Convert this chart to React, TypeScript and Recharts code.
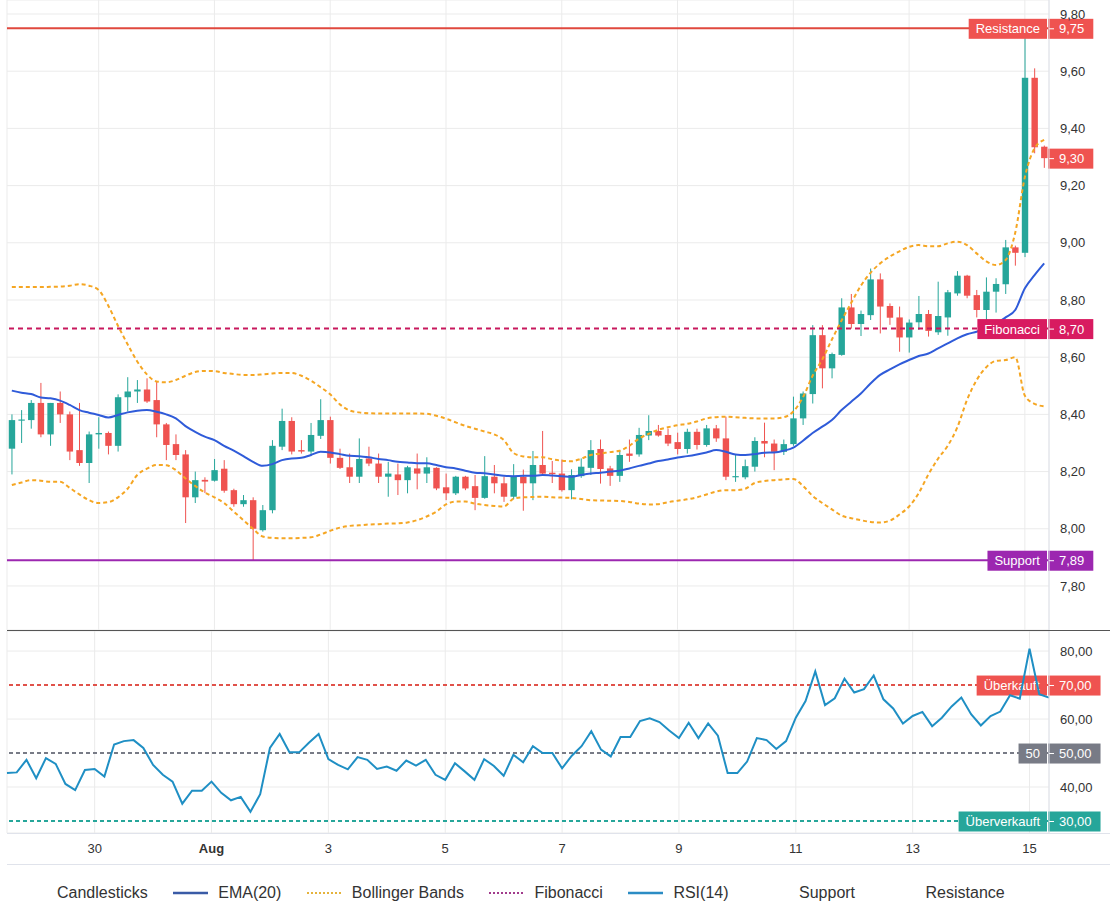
import { ComposedChart, Bar, Line, XAxis, YAxis, CartesianGrid, ReferenceLine } from 'recharts';

// 4h candles, 28 Jul 12:00 -> 15 Aug 08:00
const opens = [
  8.28, 8.378, 8.38, 8.44, 8.33, 8.44, 8.40, 8.275, 8.23, 8.33,
  8.335, 8.29, 8.46, 8.48, 8.487, 8.45, 8.365, 8.296, 8.26, 8.11,
  8.171, 8.168, 8.21, 8.135, 8.086, 8.10, 7.995, 8.065, 8.287, 8.377,
  8.275, 8.27, 8.325, 8.38, 8.248, 8.215, 8.182, 8.246, 8.228, 8.182,
  8.19, 8.17, 8.211, 8.193, 8.213, 8.145, 8.124, 8.182, 8.149, 8.108,
  8.182, 8.159, 8.112, 8.182, 8.159, 8.223, 8.196, 8.193, 8.135, 8.184,
  8.213, 8.279, 8.211, 8.185, 8.263, 8.26, 8.326, 8.342, 8.328, 8.303,
  8.279, 8.339, 8.293, 8.351, 8.316, 8.18, 8.18, 8.217, 8.307, 8.298,
  8.269, 8.296, 8.386, 8.471, 8.677, 8.561, 8.608, 8.774, 8.716, 8.747,
  8.872, 8.779, 8.739, 8.669, 8.722, 8.751, 8.687, 8.739, 8.823, 8.885,
  8.817, 8.765, 8.829, 8.855, 8.984, 8.965, 9.577, 9.336,
];
const highs = [
  8.40, 8.415, 8.45, 8.51, 8.44, 8.48, 8.41, 8.44, 8.34, 8.39,
  8.34, 8.47, 8.53, 8.52, 8.526, 8.513, 8.37, 8.33, 8.275, 8.20,
  8.18, 8.244, 8.24, 8.14, 8.118, 8.11, 8.083, 8.31, 8.42, 8.39,
  8.31, 8.37, 8.453, 8.392, 8.28, 8.263, 8.316, 8.287, 8.263, 8.234,
  8.228, 8.22, 8.263, 8.25, 8.215, 8.193, 8.185, 8.185, 8.188, 8.254,
  8.223, 8.182, 8.226, 8.207, 8.272, 8.342, 8.237, 8.242, 8.208, 8.246,
  8.31, 8.312, 8.22, 8.275, 8.312, 8.353, 8.397, 8.363, 8.35, 8.336,
  8.35, 8.35, 8.363, 8.363, 8.392, 8.258, 8.242, 8.32, 8.371, 8.312,
  8.312, 8.462, 8.48, 8.712, 8.712, 8.616, 8.806, 8.821, 8.763, 8.91,
  8.893, 8.788, 8.777, 8.732, 8.814, 8.765, 8.864, 8.835, 8.901, 8.888,
  8.835, 8.879, 8.876, 9.01, 8.99, 9.73, 9.61, 9.34,
];
const lows = [
  8.19, 8.30, 8.35, 8.32, 8.29, 8.37, 8.24, 8.22, 8.16, 8.28,
  8.26, 8.27, 8.41, 8.44, 8.44, 8.32, 8.24, 8.24, 8.02, 8.09,
  8.125, 8.165, 8.126, 8.077, 8.077, 7.89, 7.99, 8.054, 8.275, 8.26,
  8.263, 8.254, 8.314, 8.228, 8.209, 8.16, 8.16, 8.219, 8.16, 8.112,
  8.118, 8.124, 8.138, 8.16, 8.135, 8.10, 8.118, 8.135, 8.065, 8.105,
  8.124, 8.094, 8.103, 8.063, 8.10, 8.188, 8.16, 8.13, 8.103, 8.178,
  8.188, 8.158, 8.15, 8.164, 8.234, 8.252, 8.31, 8.322, 8.289, 8.26,
  8.263, 8.277, 8.287, 8.304, 8.17, 8.164, 8.173, 8.20, 8.25, 8.205,
  8.258, 8.29, 8.363, 8.438, 8.491, 8.526, 8.605, 8.70, 8.674, 8.73,
  8.683, 8.713, 8.619, 8.616, 8.695, 8.672, 8.678, 8.675, 8.815, 8.806,
  8.739, 8.73, 8.756, 8.821, 8.92, 8.95, 9.313, 9.262,
];
const closes = [
  8.38, 8.382, 8.44, 8.33, 8.44, 8.40, 8.27, 8.23, 8.33, 8.335,
  8.29, 8.46, 8.48, 8.487, 8.445, 8.365, 8.293, 8.258, 8.11, 8.17,
  8.165, 8.205, 8.133, 8.086, 8.10, 8.00, 8.065, 8.29, 8.377, 8.27,
  8.27, 8.328, 8.38, 8.248, 8.213, 8.182, 8.244, 8.228, 8.182, 8.193,
  8.17, 8.215, 8.193, 8.215, 8.141, 8.124, 8.182, 8.141, 8.108, 8.184,
  8.159, 8.112, 8.182, 8.159, 8.223, 8.193, 8.191, 8.135, 8.188, 8.217,
  8.275, 8.209, 8.185, 8.258, 8.255, 8.328, 8.342, 8.326, 8.298, 8.279,
  8.339, 8.293, 8.351, 8.316, 8.182, 8.184, 8.219, 8.307, 8.298, 8.269,
  8.296, 8.386, 8.473, 8.677, 8.561, 8.611, 8.774, 8.716, 8.751, 8.872,
  8.777, 8.738, 8.669, 8.721, 8.751, 8.692, 8.744, 8.827, 8.885, 8.815,
  8.765, 8.829, 8.856, 8.984, 8.965, 9.577, 9.334, 9.296,
];
const ema20 = [
  8.483, 8.476, 8.471, 8.459, 8.456, 8.448, 8.433, 8.415, 8.406, 8.398,
  8.389, 8.398, 8.407, 8.413, 8.415, 8.409, 8.40, 8.386, 8.359, 8.339,
  8.322, 8.31, 8.29, 8.273, 8.254, 8.234, 8.22, 8.226, 8.24, 8.246,
  8.248, 8.258, 8.269, 8.267, 8.261, 8.255, 8.254, 8.25, 8.244, 8.24,
  8.234, 8.232, 8.229, 8.229, 8.223, 8.215, 8.211, 8.203, 8.196, 8.194,
  8.19, 8.185, 8.184, 8.185, 8.185, 8.188, 8.186, 8.184, 8.182, 8.188,
  8.193, 8.196, 8.20, 8.203, 8.211, 8.22, 8.228, 8.237, 8.242, 8.249,
  8.254, 8.26, 8.267, 8.275, 8.269, 8.26, 8.258, 8.261, 8.266, 8.267,
  8.273, 8.284, 8.308, 8.335, 8.357, 8.38, 8.415, 8.444, 8.473, 8.508,
  8.538, 8.557, 8.575, 8.59, 8.604, 8.613, 8.631, 8.648, 8.666, 8.68,
  8.689, 8.701, 8.716, 8.739, 8.765, 8.841, 8.887, 8.928,
];
const bbUpper = [
  8.845, 8.845, 8.845, 8.845, 8.846, 8.847, 8.85, 8.855, 8.85, 8.835,
  8.78, 8.71, 8.645, 8.585, 8.54, 8.515, 8.512, 8.52, 8.535, 8.548,
  8.552, 8.551, 8.545, 8.541, 8.538, 8.538, 8.54, 8.543, 8.545, 8.545,
  8.535, 8.518, 8.495, 8.47, 8.435, 8.414, 8.407, 8.404, 8.403, 8.403,
  8.403, 8.403, 8.403, 8.402, 8.395, 8.385, 8.372, 8.36, 8.35, 8.34,
  8.33, 8.31, 8.265, 8.253, 8.25, 8.25, 8.243, 8.238, 8.236, 8.245,
  8.258, 8.263, 8.268, 8.273, 8.29, 8.315, 8.332, 8.346, 8.355, 8.362,
  8.367, 8.375, 8.386, 8.39, 8.392, 8.39, 8.388, 8.386, 8.386, 8.386,
  8.39, 8.41, 8.46, 8.535, 8.592, 8.662, 8.728, 8.79, 8.85, 8.895,
  8.928, 8.952, 8.97, 8.986, 8.992, 8.988, 8.988, 8.998, 9.004, 8.992,
  8.963, 8.935, 8.922, 8.94, 9.035, 9.23, 9.33, 9.36,
];
const bbLower = [
  8.153, 8.162, 8.17, 8.168, 8.164, 8.164, 8.143, 8.12, 8.10, 8.09,
  8.093, 8.11, 8.14, 8.188, 8.21, 8.223, 8.222, 8.205, 8.176, 8.15,
  8.127, 8.11, 8.09, 8.06, 8.03, 8.00, 7.973, 7.968, 7.967, 7.967,
  7.968, 7.97, 7.98, 7.993, 8.004, 8.01, 8.012, 8.015, 8.016, 8.018,
  8.019, 8.022, 8.03, 8.043, 8.06, 8.085, 8.095, 8.095, 8.088, 8.083,
  8.08, 8.078, 8.105, 8.11, 8.111, 8.112, 8.11, 8.109, 8.108, 8.104,
  8.10, 8.099, 8.098, 8.097, 8.094, 8.088, 8.085, 8.086, 8.093, 8.098,
  8.103, 8.11, 8.12, 8.13, 8.135, 8.135, 8.14, 8.16, 8.167, 8.17,
  8.173, 8.174, 8.15, 8.115, 8.09, 8.068, 8.046, 8.037, 8.03, 8.024,
  8.022, 8.028, 8.05, 8.078, 8.125, 8.19, 8.245, 8.29, 8.355, 8.45,
  8.52, 8.565, 8.587, 8.59, 8.60, 8.465, 8.437, 8.428,
];
const rsi14 = [
  44.1, 44.3, 48.0, 42.6, 48.5, 46.8, 40.9, 39.1, 45.0, 45.3,
  43.1, 52.5, 53.5, 53.8, 51.5, 46.5, 43.6, 41.6, 35.1, 38.9,
  38.9, 41.6, 38.3, 36.1, 37.1, 32.7, 37.9, 51.5, 55.6, 50.2,
  50.2, 53.0, 55.6, 48.2, 46.5, 45.2, 48.8, 48.0, 45.3, 46.0,
  44.8, 47.8, 46.3, 48.0, 43.6, 42.1, 47.0, 44.6, 42.1, 48.2,
  46.2, 43.3, 49.5, 47.3, 52.0, 50.0, 50.0, 45.5, 49.2, 52.0,
  56.4, 51.0, 49.0, 54.7, 54.7, 59.4, 60.2, 59.1, 56.6, 54.4,
  58.9, 54.4, 58.7, 55.1, 44.1, 44.1, 47.5, 54.4, 53.8, 51.2,
  53.5, 60.4, 65.3, 74.0, 64.1, 66.1, 71.9, 67.8, 68.8, 72.8,
  65.8, 63.1, 58.7, 60.9, 62.1, 57.9, 60.4, 63.7, 66.3, 61.4,
  58.1, 60.9, 62.2, 67.0, 66.0, 80.7, 67.3, 66.3,
];

const priceTicks = [7.8, 8.0, 8.2, 8.4, 8.6, 8.8, 9.0, 9.2, 9.4, 9.6, 9.8];
const rsiTicks = [40, 60, 80];
const dayTickIdx = [9, 21, 33, 45, 57, 69, 81, 93, 105];
const dayTickLabels = ['30', 'Aug', '3', '5', '7', '9', '11', '13', '15'];

const SUPPORT = 7.89;
const RESISTANCE = 9.75;
const FIBONACCI = 8.7;

const UP = '#26a69a';
const DOWN = '#ef5350';
const GRID = '#ebebeb';
const AXIS_LINE = '#e0e3eb';
const FONT = '"Liberation Sans", Arial, sans-serif';

const rows = opens.map((o, i) => ({
  i,
  open: o,
  high: highs[i],
  low: lows[i],
  close: closes[i],
  ema: ema20[i],
  upper: bbUpper[i],
  lower: bbLower[i],
  rsi: rsi14[i],
}));

const fmt = (v: number) => v.toFixed(2).replace('.', ',');

let measureCtx: CanvasRenderingContext2D | null = null;
function textWidth(s: string) {
  if (!measureCtx) measureCtx = document.createElement('canvas').getContext('2d');
  if (!measureCtx) return s.length * 7;
  measureCtx.font = `13px ${FONT}`;
  return measureCtx.measureText(s).width;
}

function Candle(props: any) {
  const { x, y, width, height, payload } = props;
  if (!payload) return null;
  const { open, close, high, low } = payload;
  const color = close >= open ? UP : DOWN;
  const top = Math.min(y, y + height);
  const h = Math.abs(height);
  const k = high > low ? h / (high - low) : 0;
  const yOf = (p: number) => top + (high - p) * k;
  const cx = x + width / 2;
  const bTop = yOf(Math.max(open, close));
  const bBot = yOf(Math.min(open, close));
  return (
    <g>
      <line x1={cx} x2={cx} y1={top} y2={top + h} stroke={color} strokeWidth={1} />
      <rect x={cx - 3.2} y={bTop} width={6.4} height={Math.max(1, bBot - bTop)} fill={color} />
    </g>
  );
}

function AxisTag(props: any) {
  const { viewBox, name, text, color } = props;
  if (!viewBox) return null;
  const axisX = viewBox.x + viewBox.width;
  const cy = viewBox.y + 0.5;
  const valW = textWidth(text) + 20;
  const nameW = name ? textWidth(name) + 14 : 0;
  return (
    <g>
      {name && (
        <g>
          <rect x={axisX - 2 - nameW} y={cy - 10} width={nameW} height={20} fill={color} />
          <text x={axisX - 2 - nameW / 2} y={cy} dy="0.36em" textAnchor="middle" fill="#fff" fontSize={13}>
            {name}
          </text>
        </g>
      )}
      <rect x={axisX - 1} y={cy - 10} width={valW} height={20} fill={color} />
      <line x1={axisX} x2={axisX + 5} y1={cy} y2={cy} stroke="#fff" strokeWidth={1} />
      <text x={axisX + 10} y={cy} dy="0.36em" fill="#fff" fontSize={13}>
        {text}
      </text>
    </g>
  );
}

function TimeTick(props: any) {
  const { x, y, payload } = props;
  const k = dayTickIdx.indexOf(payload.value);
  const label = k >= 0 ? dayTickLabels[k] : '';
  return (
    <text x={x} y={y + 12} textAnchor="middle" fontSize={13} fill="#333" fontWeight={label === 'Aug' ? 700 : 400}>
      {label}
    </text>
  );
}

const legendItems = [
  { label: 'Candlesticks', icon: 'none', color: '' },
  { label: 'EMA(20)', icon: 'solid', color: '#3a5ba6' },
  { label: 'Bollinger Bands', icon: 'dotted', color: '#e5b33c' },
  { label: 'Fibonacci', icon: 'dotted', color: '#a23b8c' },
  { label: 'RSI(14)', icon: 'solid', color: '#2b8cc4' },
  { label: 'Support', icon: 'none', color: '' },
  { label: 'Resistance', icon: 'none', color: '' },
];

export default function App() {
  return (
    <div style={{ position: 'relative', width: 1110, height: 912, fontFamily: FONT, background: '#fff' }}>
      <style>{'body{margin:0}'}</style>
      <div style={{ position: 'absolute', left: 0, top: 0 }}>
        <ComposedChart width={1110} height={630} data={rows} margin={{ top: 0, right: 0, left: 7, bottom: 0 }}>
          <CartesianGrid stroke={GRID} />
          <XAxis dataKey="i" type="category" hide ticks={dayTickIdx} />
          <YAxis
            orientation="right"
            width={61}
            domain={[7.646, 9.849]}
            allowDataOverflow
            ticks={priceTicks}
            tickFormatter={fmt}
            tickLine={false}
            axisLine={{ stroke: AXIS_LINE }}
            tick={{ fill: '#333', fontSize: 13 }}
            tickMargin={5}
          />
          <Line dataKey="upper" type="monotone" stroke="#f5a623" strokeWidth={2} strokeDasharray="4 3" dot={false} isAnimationActive={false} />
          <Line dataKey="lower" type="monotone" stroke="#f5a623" strokeWidth={2} strokeDasharray="4 3" dot={false} isAnimationActive={false} />
          <Line dataKey="ema" type="monotone" stroke="#2f5bd9" strokeWidth={2} dot={false} isAnimationActive={false} />
          <Bar dataKey={(d: any) => [d.low, d.high]} shape={<Candle />} isAnimationActive={false} />
          <ReferenceLine y={FIBONACCI} stroke="#c8185d" strokeWidth={2} strokeDasharray="5 4"
            label={<AxisTag name="Fibonacci" text={fmt(FIBONACCI)} color="#d81b60" />} />
          <ReferenceLine y={SUPPORT} stroke="#9c27b0" strokeWidth={2}
            label={<AxisTag name="Support" text={fmt(SUPPORT)} color="#9c27b0" />} />
          <ReferenceLine y={RESISTANCE} stroke="#e0483e" strokeWidth={2}
            label={<AxisTag name="Resistance" text={fmt(RESISTANCE)} color="#ef5350" />} />
          <ReferenceLine y={closes[closes.length - 1]} stroke="none"
            label={<AxisTag text={fmt(closes[closes.length - 1])} color="#ef5350" />} />
        </ComposedChart>
      </div>

      <div style={{ position: 'absolute', left: 7, top: 630, width: 1103, height: 1, background: '#555' }} />

      <div style={{ position: 'absolute', left: 0, top: 631 }}>
        <ComposedChart width={1110} height={233} data={rows} margin={{ top: 0, right: 0, left: 7, bottom: 0 }}>
          <CartesianGrid stroke={GRID} />
          <XAxis
            dataKey="i"
            type="category"
            height={31}
            ticks={dayTickIdx}
            interval={0}
            tickLine={false}
            axisLine={false}
            tick={<TimeTick />}
          />
          <YAxis
            orientation="right"
            width={61}
            domain={[26.47, 85.9]}
            allowDataOverflow
            ticks={rsiTicks}
            tickFormatter={fmt}
            tickLine={false}
            axisLine={{ stroke: AXIS_LINE }}
            tick={{ fill: '#333', fontSize: 13 }}
            tickMargin={5}
          />
          <ReferenceLine y={70} stroke="#e0524a" strokeWidth={2} strokeDasharray="4 3"
            label={<AxisTag name="Überkauft" text={fmt(70)} color="#ef5350" />} />
          <ReferenceLine y={50} stroke="#787b86" strokeWidth={2} strokeDasharray="4 3"
            label={<AxisTag name="50" text={fmt(50)} color="#787b86" />} />
          <ReferenceLine y={30} stroke="#26a69a" strokeWidth={2} strokeDasharray="4 3"
            label={<AxisTag name="Überverkauft" text={fmt(30)} color="#26a69a" />} />
          <Line dataKey="rsi" type="linear" stroke="#1f8fc4" strokeWidth={2} dot={false} isAnimationActive={false} />
        </ComposedChart>
      </div>

      <div style={{ position: 'absolute', left: 7, top: 833, width: 1103, height: 1, background: AXIS_LINE }} />
      <div style={{ position: 'absolute', left: 7, top: 864, width: 1103, height: 1, background: AXIS_LINE }} />

      <div style={{ position: 'absolute', left: 12, top: 878, height: 30, display: 'flex', alignItems: 'center' }}>
        {legendItems.map((it) => (
          <div key={it.label} style={{ display: 'flex', alignItems: 'center', marginRight: 25.5 }}>
            <svg width={35} height={10} style={{ marginRight: 10 }}>
              {it.icon === 'solid' && <line x1={0} x2={35} y1={5} y2={5} stroke={it.color} strokeWidth={2.5} />}
              {it.icon === 'dotted' && (
                <line x1={0} x2={35} y1={5} y2={5} stroke={it.color} strokeWidth={2} strokeDasharray="2 2" />
              )}
            </svg>
            <span style={{ fontSize: 16, color: '#333' }}>{it.label}</span>
          </div>
        ))}
      </div>
    </div>
  );
}
